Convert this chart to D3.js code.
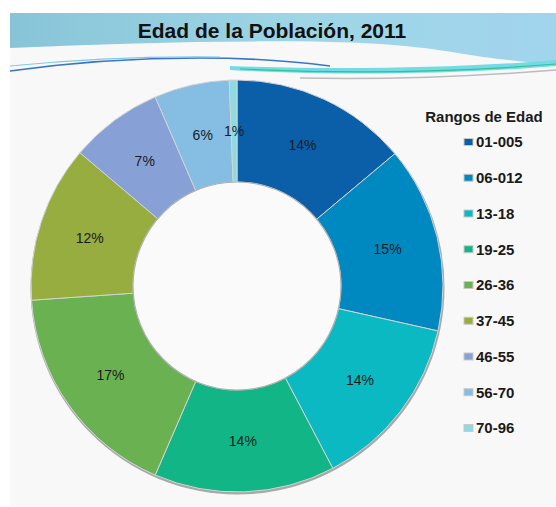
<!DOCTYPE html>
<html>
<head>
<meta charset="utf-8">
<script src="https://cdn.jsdelivr.net/npm/d3@7"></script>
<style>
  html, body { margin: 0; padding: 0; background: #fff; }
  svg { display: block; }
  text { font-family: "Liberation Sans", Arial, sans-serif; }
</style>
</head>
<body>
<svg id="chart" width="556" height="507"></svg>
<script>
const categories = ["01-005", "06-012", "13-18", "19-25", "26-36", "37-45", "46-55", "56-70", "70-96"];
const values = [13.9, 14.6, 13.8, 14.2, 17.4, 12.3, 7.3, 5.9, 0.6];
const colors = ["#0b5fa9", "#0089c1", "#0ab9c1", "#12b686", "#6ab151", "#97ad3f", "#87a1d6", "#86bde2", "#8bdbe2"];

const svg = d3.select("#chart");
const defs = svg.append("defs");

// panel background
svg.append("rect")
  .attr("x", 10).attr("y", 13)
  .attr("width", 546).attr("height", 493)
  .attr("fill", "#f8f8f8");

// header banner
const band = defs.append("linearGradient")
  .attr("id", "band")
  .attr("x1", "0%").attr("y1", "0%")
  .attr("x2", "100%").attr("y2", "0%");
band.append("stop").attr("offset", "0%").attr("stop-color", "#88c4d8");
band.append("stop").attr("offset", "55%").attr("stop-color", "#9ed6e6");
band.append("stop").attr("offset", "100%").attr("stop-color", "#a2d4ee");

svg.append("path")
  .attr("d", "M10,13 H556 V64 C520,62 490,58 470,55 C430,48 390,43 330,42 C230,40 120,43 10,48 Z")
  .attr("fill", "url(#band)");

svg.append("path")
  .attr("d", "M230,66 C340,70 460,68 556,60 V66 C460,74 340,76 230,70 Z")
  .attr("fill", "#74dbe4");
svg.append("path")
  .attr("d", "M240,69 C350,74 460,72 556,64")
  .attr("fill", "none").attr("stroke", "#2fc39a").attr("stroke-width", 1.2);
svg.append("path")
  .attr("d", "M300,78 C400,80 480,76 556,70")
  .attr("fill", "none").attr("stroke", "#bcbcbc").attr("stroke-width", 1.5);
svg.append("path")
  .attr("d", "M10,71 C60,64 120,58 200,58 C260,58 300,62 330,66")
  .attr("fill", "none").attr("stroke", "#3a74cc").attr("stroke-width", 1.6);
svg.append("path")
  .attr("d", "M10,66 C70,60 140,56 220,57")
  .attr("fill", "none").attr("stroke", "#7fcbe0").attr("stroke-width", 1.2);

svg.append("text")
  .attr("x", 272).attr("y", 38)
  .attr("text-anchor", "middle")
  .attr("font-size", 21)
  .attr("font-weight", "bold")
  .attr("fill", "#111")
  .text("Edad de la Población, 2011");

// donut
const cx = 237, cy = 286;
const outerR = 206, innerR = 104;

const pie = d3.pie().sort(null).value(d => d);
const arcs = pie(values);
const total = d3.sum(values);
const arc = d3.arc().innerRadius(innerR).outerRadius(outerR);

const g = svg.append("g").attr("transform", `translate(${cx}, ${cy})`);

g.append("circle")
  .attr("r", outerR + 1)
  .attr("fill", "#a8a8a8")
  .attr("transform", "translate(0.5, 1.5)");

g.selectAll("path.slice")
  .data(arcs)
  .enter()
  .append("path")
  .attr("class", "slice")
  .attr("d", arc)
  .attr("fill", (d, i) => colors[i])
  .attr("stroke", "#d4d4d4")
  .attr("stroke-width", 1);

g.append("circle")
  .attr("r", innerR)
  .attr("fill", "#fafafa")
  .attr("stroke", "#b0b0b0")
  .attr("stroke-width", 1.2);

g.selectAll("text.pct")
  .data(arcs)
  .enter()
  .append("text")
  .attr("class", "pct")
  .attr("x", d => arc.centroid(d)[0])
  .attr("y", d => arc.centroid(d)[1])
  .attr("dy", "0.35em")
  .attr("text-anchor", "middle")
  .attr("font-size", 14)
  .attr("fill", "#1a1a1a")
  .text(d => Math.round(d.value / total * 100) + "%");

// legend
svg.append("text")
  .attr("x", 484).attr("y", 122)
  .attr("text-anchor", "middle")
  .attr("font-size", 15)
  .attr("font-weight", "bold")
  .attr("fill", "#1a1a1a")
  .text("Rangos de Edad");

const ly = d3.scalePoint()
  .domain(categories)
  .range([142, 428]);

const legend = svg.selectAll("g.legend")
  .data(categories)
  .enter()
  .append("g")
  .attr("class", "legend")
  .attr("transform", d => `translate(464, ${ly(d)})`);

legend.append("rect")
  .attr("x", 0).attr("y", -3.5)
  .attr("width", 9).attr("height", 7)
  .attr("fill", (d, i) => colors[i])
  .attr("stroke", "#c8c8c8")
  .attr("stroke-width", 1);

legend.append("text")
  .attr("x", 12).attr("y", 0)
  .attr("dy", "0.36em")
  .attr("font-size", 15)
  .attr("font-weight", "bold")
  .attr("fill", "#1a1a1a")
  .text(d => d);
</script>
</body>
</html>
